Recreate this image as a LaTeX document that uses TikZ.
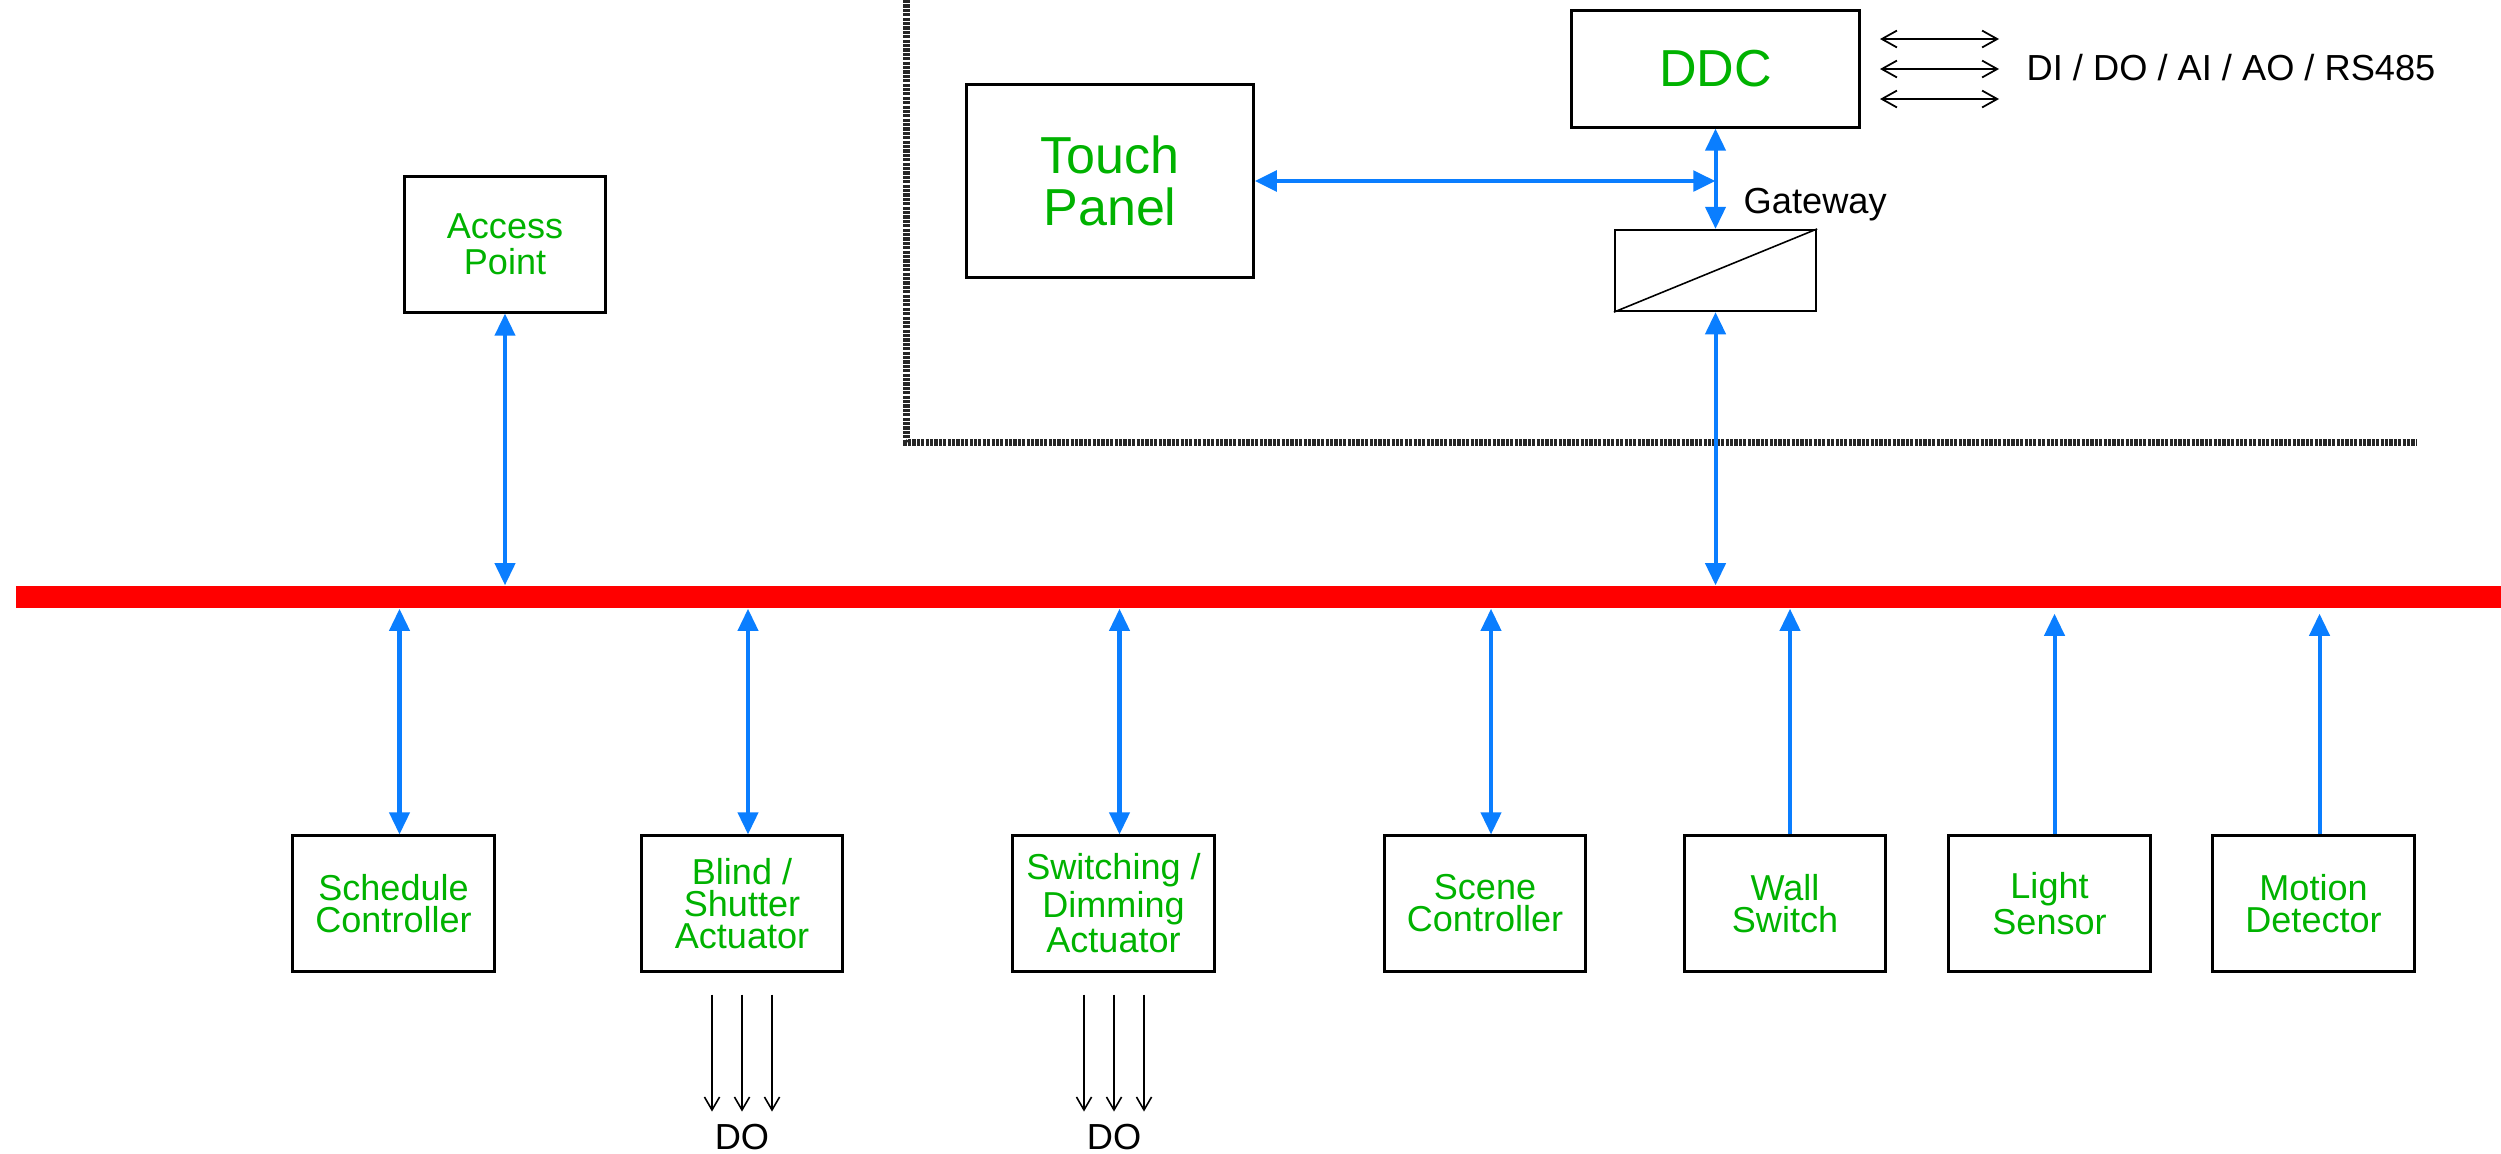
\documentclass[tikz,border=0pt]{standalone}
\usepackage{fontspec}
\setmainfont{Liberation Sans}
\usetikzlibrary{arrows.meta,calc}
\definecolor{dgreen}{RGB}{0,178,0}
\definecolor{lblue}{RGB}{10,126,255}
\begin{document}
\begin{tikzpicture}[x=0.01cm,y=-0.01cm,
  devbox/.style={draw, line width=0.85pt, inner sep=0pt, minimum width=2.01cm, minimum height=1.35cm, align=center, text=dgreen, font=\fontsize{10.25pt}{9.1pt}\selectfont},
  bigbox/.style={draw, line width=0.85pt, inner sep=0pt, align=center, text=dgreen, font=\fontsize{14.8pt}{14.8pt}\selectfont},
  blueline/.style={draw=lblue, line width=1.15pt},
  bi/.style={blueline, arrows={Triangle[length=6.3pt,width=5.7pt]-Triangle[length=6.3pt,width=5.7pt]}},
  uni/.style={blueline, arrows={-Triangle[length=6.3pt,width=5.7pt]}},
  io/.style={line width=0.5pt, arrows={Straight Barb[length=4.3pt,width=4.8pt]-Straight Barb[length=4.3pt,width=4.8pt]}},
  doarrow/.style={line width=0.45pt, arrows={-Straight Barb[length=3.7pt,width=4.3pt]}},
  lbl/.style={font=\fontsize{10.3pt}{12pt}\selectfont, inner sep=0pt},
  border/.style={draw=black!85, line width=2pt, dash pattern=on 0.9pt off 0.35pt}]

\useasboundingbox (0,0) rectangle (2501,1153);

% building border
\coordinate (btop) at (906,0);
\coordinate (bcorner) at (906,442);
\coordinate (bend) at (2417,442);
\draw[border] (btop) -- (bcorner) -- (bend);

% bus
\node[fill=red, inner sep=0pt, minimum width=24.84cm, minimum height=0.22cm] (bus) at (1259,597) {};

% upper nodes
\node[devbox, font=\fontsize{10.25pt}{10.2pt}\selectfont] (ap) at (505,244.5) {Access\\Point};
\node[bigbox, minimum width=2.86cm, minimum height=1.92cm] (tp) at (1110,181) {Touch\\Panel};
\node[bigbox, minimum width=2.87cm, minimum height=1.16cm] (ddc) at (1715.5,69) {DDC};
\node[draw, line width=0.6pt, minimum width=2.01cm, minimum height=0.81cm, inner sep=0pt] (gw) at (1715.5,270.5) {};
\draw[line width=0.45pt] (gw.south west) -- (gw.north east);
\node[lbl, anchor=base west] (gwl) at (1743,213) {Gateway};

\coordinate (junc) at (ddc.south |- tp.east);
\draw[bi, line width=1.4pt] (tp.east) -- (junc);
\draw[bi] (ddc.south) -- (gw.north);
\draw[bi] (gw.south) -- (gw.south |- bus.north);
\draw[bi] (ap.south) -- (ap.south |- bus.north);

% I/O arrows
\foreach \y [count=\i] in {39,69,99} {
  \coordinate (ioa\i) at (1880,\y);
  \coordinate (iob\i) at (1999,\y);
  \draw[io] (ioa\i) -- (iob\i);
}
\node[lbl, anchor=base west] (iotext) at (2026,80) {DI / DO / AI / AO / RS485};

% lower nodes
\node[devbox] (sched) at (393.5,903.5) {Schedule\\Controller};
\node[devbox] (blind) at (742,903.5) {Blind /\\Shutter\\Actuator};
\node[devbox] (switch) at (1113.5,903.5) {Switching /\\Dimming\\Actuator};
\node[devbox] (scene) at (1485,903.5) {Scene\\Controller};
\node[devbox] (wall) at (1785,903.5) {Wall\\Switch};
\node[devbox] (light) at (2049.5,903.5) {Light\\Sensor};
\node[devbox] (motion) at (2313.5,903.5) {Motion\\Detector};

\coordinate (sa) at ($(sched.north)+(6,0)$);
\coordinate (ba) at ($(blind.north)+(6,0)$);
\coordinate (swa) at ($(switch.north)+(6,0)$);
\coordinate (sca) at ($(scene.north)+(6,0)$);
\coordinate (wa) at ($(wall.north)+(5,0)$);
\coordinate (la) at ($(light.north)+(5,0)$);
\coordinate (ma) at ($(motion.north)+(6,0)$);

\draw[bi] (sa) -- (sa |- bus.south);
\draw[bi] (ba) -- (ba |- bus.south);
\draw[bi] (swa) -- (swa |- bus.south);
\draw[bi] (sca) -- (sca |- bus.south);
\draw[uni] (wa) -- (wa |- bus.south);
\draw[uni, shorten >=1.4pt] (la) -- (la |- bus.south);
\draw[uni, shorten >=1.4pt] (ma) -- (ma |- bus.south);

% DO outputs
\foreach \dx in {-30,0,30} {
  \draw[doarrow] ($(blind.south)+(\dx,22)$) -- ++(0,117);
  \draw[doarrow] ($(switch.south)+(\dx+0.5,22)$) -- ++(0,117);
}
\node[lbl] (do1) at ($(blind.south)+(0,164)$) {DO};
\node[lbl] (do2) at ($(switch.south)+(0.5,164)$) {DO};

\end{tikzpicture}
\end{document}
